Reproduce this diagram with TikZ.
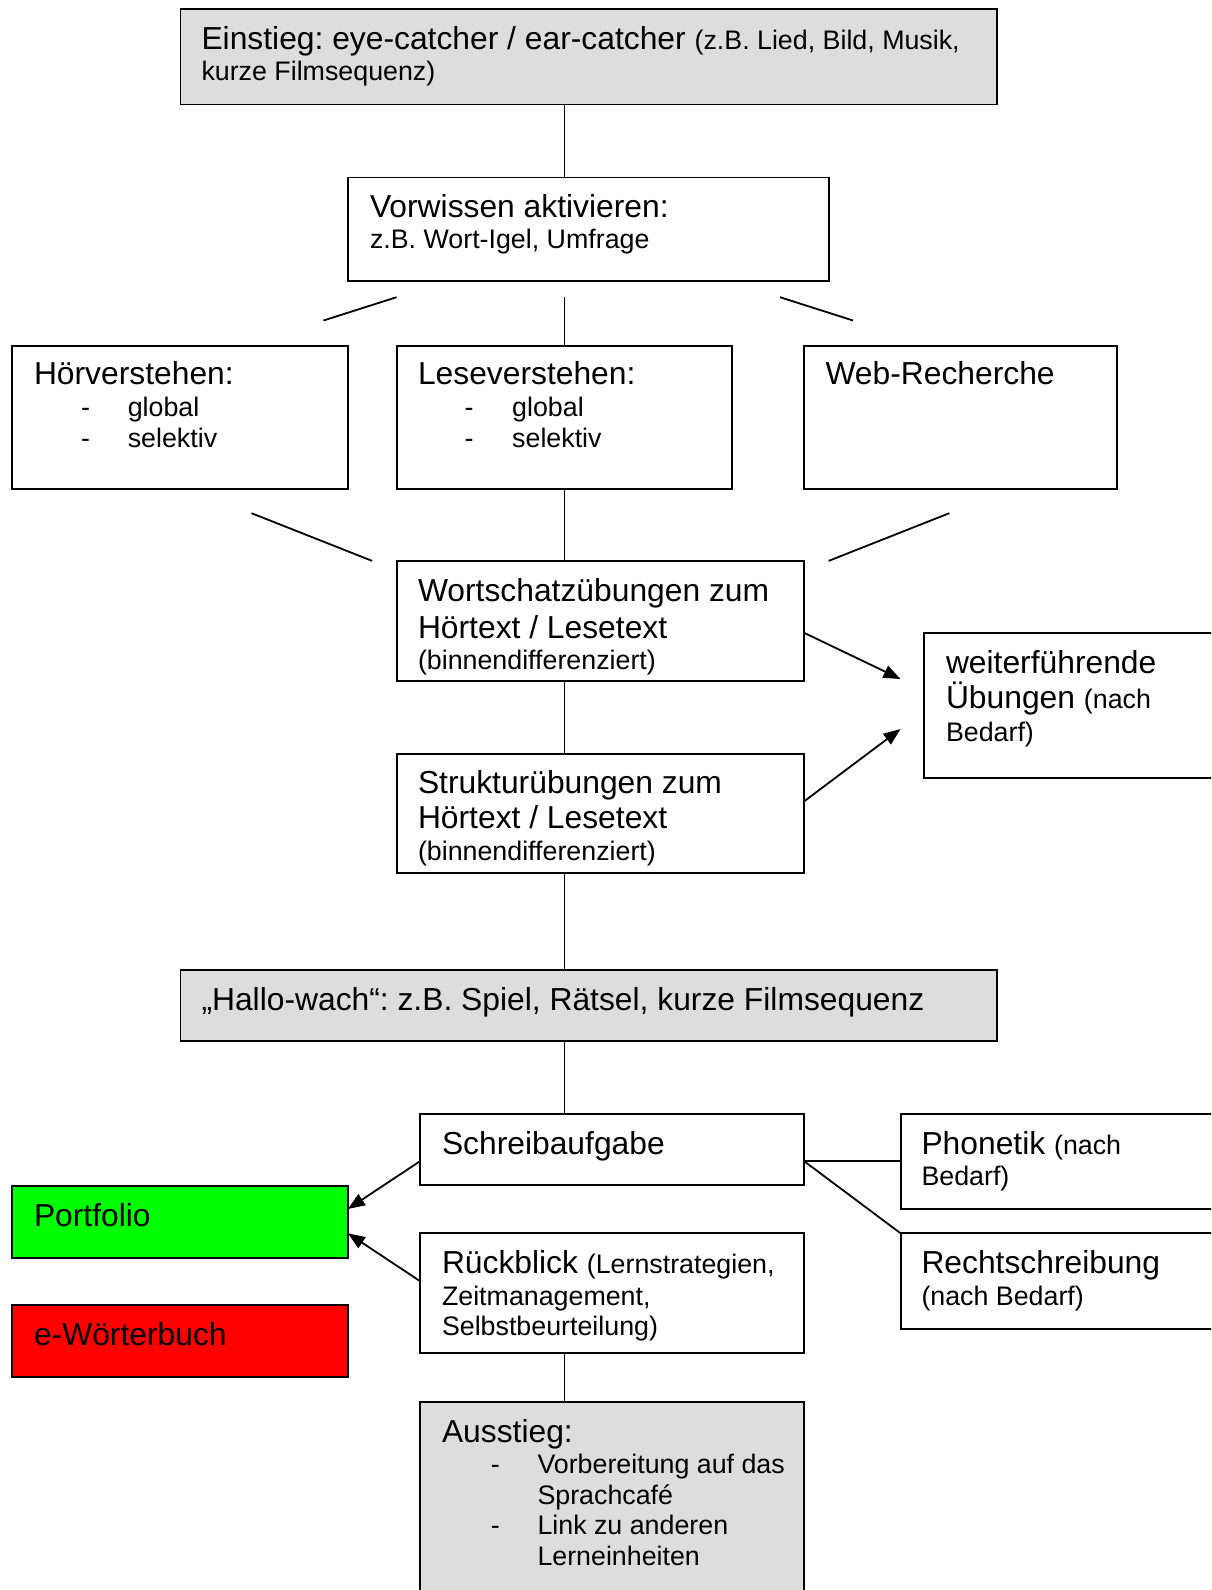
\documentclass[tikz,border=0pt]{standalone}
\usepackage{fontspec}
\setmainfont{Liberation Sans}
\usetikzlibrary{arrows.meta,calc}
\definecolor{boxgray}{RGB}{221,221,221}
\definecolor{boxgreen}{RGB}{0,255,0}
\definecolor{boxred}{RGB}{255,0,0}
\newcommand\smf{\fontsize{26.8}{30}\selectfont}
\newcommand\bgf{\fontsize{31.8}{36}\selectfont}
\frenchspacing
\begin{document}
\begin{tikzpicture}[x=1pt,y=-1pt,
  box/.style={draw=black, line width=1.9pt, fill=white, anchor=north west, inner sep=0pt, outer sep=0pt},
  gbox/.style={box, fill=boxgray},
  lbl/.style={anchor=base west, inner sep=0pt, outer sep=0pt, font=\bgf\frenchspacing},
  slbl/.style={lbl, font=\smf\frenchspacing},
  conn/.style={line width=1.8pt},
  arr/.style={conn, -{Triangle[length=17pt,width=13pt]}}]
\clip (0,0) rectangle (1211,1590);
\fill[white] (0,0) rectangle (1211,1590);
% boxes
\node[gbox, minimum width=816.5pt, minimum height=95.4pt] (ein) at (180.5,9.1) {};
\node[box, minimum width=480.7pt, minimum height=103.4pt] (vor) at (347.9,177.5) {};
\node[box, minimum width=335.7pt, minimum height=143pt] (hor) at (12.2,345.9) {};
\node[box, minimum width=335.7pt, minimum height=143pt] (lese) at (396.6,345.9) {};
\node[box, minimum width=312.4pt, minimum height=143pt] (web) at (804.3,345.9) {};
\node[box, minimum width=407.7pt, minimum height=119.7pt] (wort) at (396.6,560.9) {};
\node[box, minimum width=320pt, minimum height=145pt] (weit) at (924,632.9) {};
\node[box, minimum width=407.7pt, minimum height=119.7pt] (stru) at (396.6,753.6) {};
\node[gbox, minimum width=816.5pt, minimum height=71pt] (hallo) at (180.5,969.6) {};
\node[box, minimum width=384.4pt, minimum height=71pt] (schr) at (419.9,1113.6) {};
\node[box, fill=boxgreen, minimum width=335.7pt, minimum height=72.1pt] (port) at (12.2,1185.6) {};
\node[box, minimum width=384.4pt, minimum height=119.7pt] (rueck) at (419.9,1233.3) {};
\node[box, fill=boxred, minimum width=335.7pt, minimum height=72pt] (ewb) at (12.2,1305.3) {};
\node[box, minimum width=330pt, minimum height=95.4pt] (phon) at (900.6,1113.6) {};
\node[box, minimum width=330pt, minimum height=95.4pt] (recht) at (900.6,1233.3) {};
\node[gbox, minimum width=384.4pt, minimum height=220pt] (aus) at (419.9,1401.7) {};
% free line ends
\coordinate (fa1) at (323.5,320.5); \coordinate (fa2) at (396.6,297.2);
\coordinate (fb1) at (563.9,297.2);
\coordinate (fc1) at (780,297.2); \coordinate (fc2) at (853,320.5);
\coordinate (fd1) at (251.5,513.2); \coordinate (fd2) at (372.2,560.9);
\coordinate (fe1) at (949.3,513.2); \coordinate (fe2) at (828.6,560.9);
\coordinate (ta1) at (900.5,679); \coordinate (ta2) at (900.5,729);
% connectors
\draw[conn] (ein.south -| lese.north) -- (vor.north -| lese.north);
\draw[conn] (fa1) -- (fa2);
\draw[conn] (fb1 -| lese.north) -- (lese.north);
\draw[conn] (fc1) -- (fc2);
\draw[conn] (fd1) -- (fd2);
\draw[conn] (lese.south) -- (wort.north -| lese.south);
\draw[conn] (fe1) -- (fe2);
\draw[conn] (wort.south -| lese.south) -- (stru.north -| lese.south);
\draw[conn] (stru.south -| lese.south) -- (hallo.north -| lese.south);
\draw[conn] (hallo.south -| lese.south) -- (schr.north -| lese.south);
\draw[conn] (rueck.south -| lese.south) -- (aus.north -| lese.south);
\draw[arr] ($(wort.north east)+(0,72)$) -- (ta1);
\draw[arr] ($(stru.north east)+(0,47.6)$) -- (ta2);
\draw[arr] ($(schr.north west)+(0,47.7)$) -- ($(port.north east)+(0,23.4)$);
\draw[arr] ($(rueck.north west)+(0,47.7)$) -- ($(port.north east)+(0,47.7)$);
\draw[conn] ($(schr.north east)+(0,47.7)$) -- ($(phon.north west)+(0,47.7)$);
\draw[conn] ($(schr.north east)+(0,47.7)$) -- (recht.north west);
% texts
\node[lbl] (t1a) at (201.5,49.7) {Einstieg: eye-catcher / ear-catcher {\smf(z.B. Lied, Bild, Musik,}};
\node[slbl] (t1b) at (201.5,80.1) {kurze Filmsequenz)};
\node[lbl] (t2a) at (370,217) {Vorwissen aktivieren:};
\node[slbl] (t2b) at (370,248.5) {z.B. Wort-Igel, Umfrage};
\node[lbl] (t3a) at (34,384.4) {Hörverstehen:};
\node[slbl] (t3b) at (81.1,416.8) {-};
\node[slbl] (t3c) at (127.8,416.8) {global};
\node[slbl] (t3d) at (81.1,447.3) {-};
\node[slbl] (t3e) at (127.8,447.3) {selektiv};
\node[lbl] (t4a) at (418,384.4) {Leseverstehen:};
\node[slbl] (t4b) at (464.5,416.8) {-};
\node[slbl] (t4c) at (512.2,416.8) {global};
\node[slbl] (t4d) at (464.5,447.3) {-};
\node[slbl] (t4e) at (512.2,447.3) {selektiv};
\node[lbl] (t5a) at (825.5,384.4) {Web-Recherche};
\node[lbl] (t6a) at (418,601.6) {Wortschatzübungen zum};
\node[lbl] (t6b) at (418,638) {Hörtext / Lesetext};
\node[slbl] (t6c) at (418,669) {(binnendifferenziert)};
\node[lbl] (t7a) at (946,673.5) {weiterführende};
\node[lbl] (t7b) at (946,708.9) {Übungen {\smf(nach}};
\node[slbl] (t7c) at (946,741.4) {Bedarf)};
\node[lbl] (t8a) at (418,793.5) {Strukturübungen zum};
\node[lbl] (t8b) at (418,828.6) {Hörtext / Lesetext};
\node[slbl] (t8c) at (418,860.1) {(binnendifferenziert)};
\node[lbl] (t9a) at (201.5,1010.2) {„Hallo-wach“: z.B. Spiel, Rätsel, kurze Filmsequenz};
\node[lbl] (t10a) at (442,1154.2) {Schreibaufgabe};
\node[lbl] (t11a) at (34,1226.2) {Portfolio};
\node[lbl] (t12a) at (442,1273.9) {Rückblick {\smf(Lernstrategien,}};
\node[slbl] (t12b) at (442,1305.3) {Zeitmanagement,};
\node[slbl] (t12c) at (442,1335.7) {Selbstbeurteilung)};
\node[lbl] (t13a) at (34,1345.9) {e-Wörterbuch};
\node[lbl] (t14a) at (921.5,1154.2) {Phonetik {\smf(nach}};
\node[slbl] (t14b) at (921.5,1185.6) {Bedarf)};
\node[lbl] (t15a) at (921.5,1273.9) {Rechtschreibung};
\node[slbl] (t15b) at (921.5,1305.3) {(nach Bedarf)};
\node[lbl] (t16a) at (442,1442.2) {Ausstieg:};
\node[slbl] (t16b) at (490.9,1473.7) {-};
\node[slbl] (t16c) at (537.5,1473.7) {Vorbereitung auf das};
\node[slbl] (t16d) at (537.5,1504.1) {Sprachcafé};
\node[slbl] (t16e) at (490.9,1534.5) {-};
\node[slbl] (t16f) at (537.5,1534.5) {Link zu anderen};
\node[slbl] (t16g) at (537.5,1565) {Lerneinheiten};
\end{tikzpicture}
\end{document}
